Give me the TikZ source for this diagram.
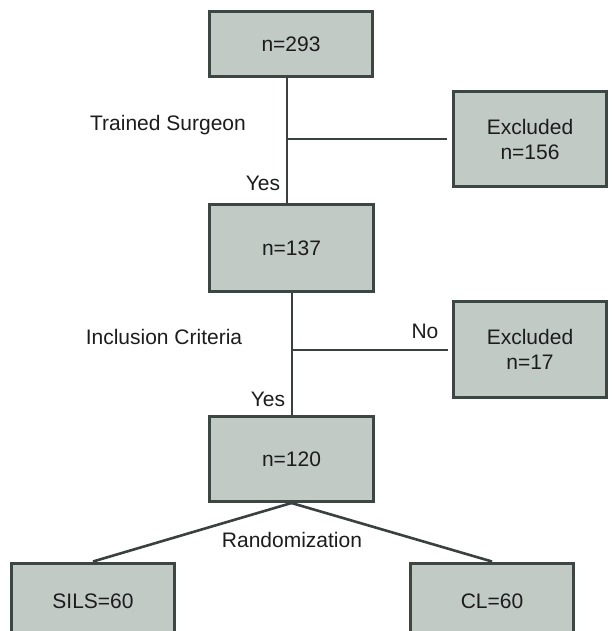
\documentclass[tikz,border=0pt]{standalone}
\usepackage{fontspec}
\setmainfont{Liberation Sans}
\usepackage{xcolor}
\definecolor{boxgray}{HTML}{C2CAC6}
\definecolor{edgegray}{HTML}{3C4643}
\definecolor{linegray}{HTML}{3A403F}
\definecolor{textgray}{HTML}{1C1C1C}

\tikzset{
    flowbox/.style={rectangle, draw=edgegray, fill=boxgray, line width=3pt,
        inner sep=0pt, align=center, text=textgray,
        font=\fontsize{21}{25}\selectfont},
    flowline/.style={linegray, line width=2.6pt},
    flowlabel/.style={text=textgray, inner sep=0pt,
        font=\fontsize{21}{25}\selectfont}
}

\begin{document}
\begin{tikzpicture}[x=1pt,y=-1pt]
    \path[use as bounding box] (0,0) rectangle (612,631);
    \clip (0,0) rectangle (612,631);

    % Main boxes
    \node [flowbox, minimum width=163, minimum height=65] (N1) at (291,44) {n=293};
    \node [flowbox, minimum width=164, minimum height=87] (N2) at (291.5,248) {n=137};
    \node [flowbox, minimum width=164, minimum height=85] (N3) at (291.5,459) {n=120};

    % Excluded boxes
    \node [flowbox, minimum width=153, minimum height=95] (E1) at (530,139) {Excluded\\n=156};
    \node [flowbox, minimum width=153, minimum height=96] (E2) at (530,349.5) {Excluded\\n=17};

    % Randomized arms
    \node [flowbox, minimum width=163, minimum height=76] (S) at (93,601) {SILS=60};
    \node [flowbox, minimum width=163, minimum height=76] (C) at (492,601) {CL=60};

    % Branch points
    \coordinate (J1) at (287,139);
    \coordinate (J2) at (292,350);

    % Connectors
    \draw[flowline] (N1.south -| J1) -- (N2.north -| J1);
    \draw[flowline] (J1) -- ([xshift=-5pt]E1.west |- J1);
    \draw[flowline] (N2.south -| J2) -- (N3.north -| J2);
    \draw[flowline] (J2) -- ([xshift=-4pt]E2.west |- J2);
    \draw[flowline] (N3.south) -- (S.north);
    \draw[flowline] (N3.south) -- (C.north);

    % Labels
    \node [flowlabel] (T1) at (168,125) {Trained Surgeon};
    \node [flowlabel] (Y1) at (263,183) {Yes};
    \node [flowlabel] (T2) at (164,337) {Inclusion Criteria};
    \node [flowlabel] (NO) at (425,331) {No};
    \node [flowlabel] (Y2) at (268,399) {Yes};
    \node [flowlabel] (R) at (292,540) {Randomization};
\end{tikzpicture}
\end{document}
